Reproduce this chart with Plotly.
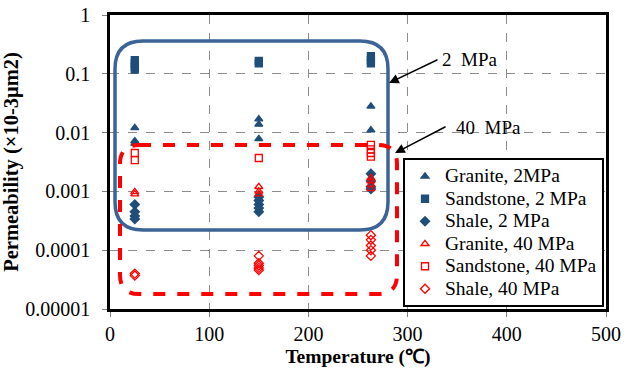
import plotly.graph_objects as go

# ---- data ----
granite_2_x = [25, 25, 25, 150, 150, 150, 263, 263]
granite_2_y = [0.012, 0.0072, 0.0065, 0.017, 0.0138, 0.0078, 0.028, 0.011]

sandstone_2_x = [25, 25, 25, 25, 150, 150, 263, 263, 263]
sandstone_2_y = [0.17, 0.15, 0.13, 0.118, 0.165, 0.15, 0.2, 0.17, 0.15]

shale_2_x = [25, 25, 25, 25, 150, 150, 150, 150, 150, 263, 263, 263, 263]
shale_2_y = [0.0006, 0.00045, 0.00038, 0.00034, 0.0008, 0.0007, 0.0006, 0.00052, 0.00045, 0.002, 0.0015, 0.0012, 0.0011]

granite_40_x = [25, 25, 150, 150, 150, 263, 263, 263, 263]
granite_40_y = [0.00098, 0.0009, 0.0012, 0.001, 0.0009, 0.0017, 0.0015, 0.0013, 0.0011]

sandstone_40_x = [25, 25, 150, 263, 263, 263, 263]
sandstone_40_y = [0.0045, 0.0034, 0.0037, 0.0062, 0.0052, 0.0045, 0.0039]

shale_40_x = [25, 25, 150, 150, 150, 150, 150, 263, 263, 263, 263, 263]
shale_40_y = [0.00004, 0.000037, 0.00008, 0.00006, 0.000055, 0.00005, 0.000046, 0.00018, 0.00015, 0.00012, 0.0001, 0.00008]

series_names = ["Granite, 2MPa", "Sandstone, 2 MPa", "Shale, 2 MPa",
                "Granite, 40 MPa", "Sandstone, 40 MPa", "Shale, 40 MPa"]

ytick_vals = [0.00001, 0.0001, 0.001, 0.01, 0.1, 1]
ytick_text = ["0.00001", "0.0001", "0.001", "0.01", "0.1", "1"]

BLUE = "#1F4E79"
RED = "#FF0000"
FONT = "'Liberation Serif', 'Times New Roman', serif"

fig = go.Figure()
series = [
    (series_names[0], granite_2_x, granite_2_y, "triangle-up", BLUE, 7),
    (series_names[1], sandstone_2_x, sandstone_2_y, "square", BLUE, 7),
    (series_names[2], shale_2_x, shale_2_y, "diamond", BLUE, 7),
    (series_names[3], granite_40_x, granite_40_y, "triangle-up-open", RED, 7),
    (series_names[4], sandstone_40_x, sandstone_40_y, "square-open", RED, 7),
    (series_names[5], shale_40_x, shale_40_y, "diamond-open", RED, 7),
]
for name, xs, ys, sym, col, sz in series:
    fig.add_trace(go.Scatter(
        x=xs, y=ys, mode="markers",
        name=f'<span style="font-size:19.5px">{name}</span>',
        marker=dict(symbol=sym, color=col, size=sz, line=dict(color=col, width=1.3)),
    ))

W, H = 633, 370
L, R, T, B = 110, 27, 15, 61
pw, ph = W - L - R, H - T - B

def px2paper(x, y):
    return (x - L) / pw, (H - B - y) / ph

def rounded_rect(x0, y0, x1, y1, r):
    rx, ry = r / pw, r / ph
    a0, b1 = px2paper(x0, y0)
    a1, b0 = px2paper(x1, y1)
    return (f"M {a0+rx},{b1} L {a1-rx},{b1} Q {a1},{b1} {a1},{b1-ry} "
            f"L {a1},{b0+ry} Q {a1},{b0} {a1-rx},{b0} "
            f"L {a0+rx},{b0} Q {a0},{b0} {a0},{b0+ry} "
            f"L {a0},{b1-ry} Q {a0},{b1} {a0+rx},{b1} Z")

fig.add_shape(type="path", xref="paper", yref="paper",
              path=rounded_rect(115, 41, 388, 230, 28),
              line=dict(color="#3C6496", width=3.5))
fig.add_shape(type="path", xref="paper", yref="paper",
              path=rounded_rect(120, 145, 397, 294, 19),
              line=dict(color=RED, width=4, dash="dash"))

# arrows
hx, hy = px2paper(389, 83)
fig.add_annotation(x=hx, y=hy, xref="paper", yref="paper", ax=50, ay=-24,
                   text="", showarrow=True, arrowhead=2, arrowsize=1.3,
                   arrowwidth=1.5, arrowcolor="black")
hx, hy = px2paper(395, 153)
fig.add_annotation(x=hx, y=hy, xref="paper", yref="paper", ax=52, ay=-27,
                   text="", showarrow=True, arrowhead=2, arrowsize=1.3,
                   arrowwidth=1.5, arrowcolor="black")
tx, ty = px2paper(440, 60)
fig.add_annotation(x=tx, y=ty, xref="paper", yref="paper", text="2  MPa",
                   showarrow=False, xanchor="left", yanchor="middle",
                   font=dict(family=FONT, size=19, color="black"))
tx, ty = px2paper(454, 127)
fig.add_annotation(x=tx, y=ty, xref="paper", yref="paper", text="40  MPa",
                   showarrow=False, xanchor="left", yanchor="middle",
                   font=dict(family=FONT, size=19, color="black"))

lx, ly = px2paper(604, 158)
fig.update_layout(
    width=W, height=H,
    margin=dict(l=L, r=R, t=T, b=B, autoexpand=False),
    paper_bgcolor="white", plot_bgcolor="white",
    font=dict(family=FONT, size=16, color="black"),
    showlegend=True,
    legend=dict(x=lx, y=ly, xanchor="right", yanchor="top",
                bordercolor="black", borderwidth=2, bgcolor="white",
                font=dict(family=FONT, size=15, color="black"),
                tracegroupgap=0, itemwidth=30),
    xaxis=dict(range=[0, 500], dtick=100, tick0=0, automargin=False,
               showgrid=True, gridcolor="#8C8C8C", griddash="dash", gridwidth=1,
               showline=True, linecolor="black", linewidth=2.5, mirror=True,
               ticks="outside", ticklen=5, tickcolor="#808080",
               zeroline=False,
               title=dict(text="<b>Temperature (℃)</b>", font=dict(family=FONT, size=19.5), standoff=6),
               tickfont=dict(family=FONT, size=20)),
    yaxis=dict(type="log", range=[-5, 0], tickvals=ytick_vals, ticktext=ytick_text,
               automargin=False,
               showgrid=True, gridcolor="#8C8C8C", griddash="dash", gridwidth=1,
               showline=True, linecolor="black", linewidth=2.5, mirror=True,
               ticks="outside", ticklen=5, tickcolor="#808080",
               ticklabelstandoff=8,
               title=dict(text="<b>Permeability (×10-3μm2)</b>", font=dict(family=FONT, size=20.5), standoff=2),
               tickfont=dict(family=FONT, size=20)),
)

fig.write_html("out.html")
